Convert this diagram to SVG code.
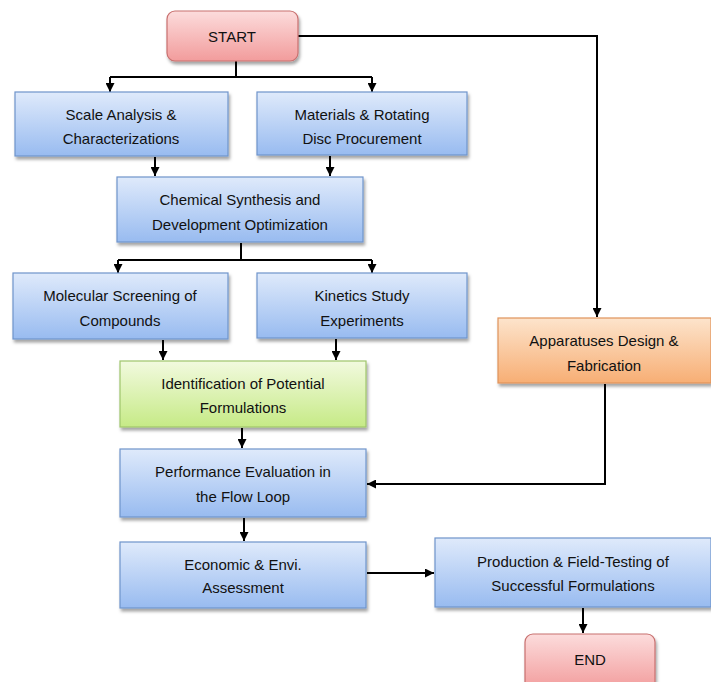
<svg xmlns="http://www.w3.org/2000/svg" width="711" height="682" viewBox="0 0 711 682">
<defs>
<linearGradient id="gBlue" x1="0" y1="0" x2="0" y2="1"><stop offset="0" stop-color="#dfeafb"/><stop offset="1" stop-color="#98bbf0"/></linearGradient>
<linearGradient id="gPink" x1="0" y1="0" x2="0" y2="1"><stop offset="0" stop-color="#fcdcdc"/><stop offset="1" stop-color="#f29c9c"/></linearGradient>
<linearGradient id="gGreen" x1="0" y1="0" x2="0" y2="1"><stop offset="0" stop-color="#f2fadf"/><stop offset="1" stop-color="#c6ea86"/></linearGradient>
<linearGradient id="gOrange" x1="0" y1="0" x2="0" y2="1"><stop offset="0" stop-color="#fde4cc"/><stop offset="1" stop-color="#f7ae74"/></linearGradient>
<filter id="sh" x="-10%" y="-10%" width="125%" height="140%"><feDropShadow dx="1.5" dy="3" stdDeviation="1.8" flood-color="#000" flood-opacity="0.35"/></filter>
<marker id="ah" viewBox="0 0 10 10" refX="10" refY="5" markerWidth="9" markerHeight="9" markerUnits="userSpaceOnUse" orient="auto"><path d="M0,0 L10,5 L0,10 z" fill="#000"/></marker>
</defs>
<style>
.blue{fill:url(#gBlue);stroke:#6f94cb;stroke-width:1.2}
.pink{fill:url(#gPink);stroke:#c8706f;stroke-width:1.2}
.green{fill:url(#gGreen);stroke:#9fc56c;stroke-width:1.2}
.orange{fill:url(#gOrange);stroke:#e0935a;stroke-width:1.2}
text{font-family:"Liberation Sans","Open Sans",sans-serif;font-size:15px;fill:#111;text-anchor:middle}
.c{fill:none;stroke:#000;stroke-width:2}
</style>
<rect width="711" height="682" fill="#fff"/>
<g id="connectors">
<path class="c" d="M236,61 V77"/>
<path class="c" d="M110,77 H372"/>
<path class="c" d="M110,77 V92" marker-end="url(#ah)"/>
<path class="c" d="M372,77 V92" marker-end="url(#ah)"/>
<path class="c" d="M298,36 H597 V317" marker-end="url(#ah)"/>
<path class="c" d="M155,157 V176" marker-end="url(#ah)"/>
<path class="c" d="M330,156 V176" marker-end="url(#ah)" stroke-width="3"/>
<path class="c" d="M241,243 V260"/>
<path class="c" d="M118,260 H372"/>
<path class="c" d="M118,260 V273" marker-end="url(#ah)"/>
<path class="c" d="M372,260 V273" marker-end="url(#ah)"/>
<path class="c" d="M163,340 V360" marker-end="url(#ah)"/>
<path class="c" d="M336,339 V360" marker-end="url(#ah)"/>
<path class="c" d="M242,428 V448" marker-end="url(#ah)"/>
<path class="c" d="M605,384 V484 H367" marker-end="url(#ah)"/>
<path class="c" d="M244,518 V541" marker-end="url(#ah)"/>
<path class="c" d="M367,573 H434" marker-end="url(#ah)"/>
<path class="c" d="M583,608 V633" marker-end="url(#ah)"/>
</g>
<g id="start"><rect class="pink" x="167" y="11" width="131" height="50" rx="8" filter="url(#sh)"/><text x="232" y="42">START</text></g>
<g id="scale"><rect class="blue" x="15" y="92" width="213" height="64" filter="url(#sh)"/><text x="121" y="120">Scale Analysis &amp;</text><text x="121" y="144">Characterizations</text></g>
<g id="materials"><rect class="blue" x="257" y="92" width="210" height="63" filter="url(#sh)"/><text x="362" y="120">Materials &amp; Rotating</text><text x="362" y="144">Disc Procurement</text></g>
<g id="chemical"><rect class="blue" x="117" y="177" width="246" height="65" filter="url(#sh)"/><text x="240" y="205">Chemical Synthesis and</text><text x="240" y="230">Development Optimization</text></g>
<g id="molecular"><rect class="blue" x="13" y="273" width="215" height="66" filter="url(#sh)"/><text x="120" y="301">Molecular Screening of</text><text x="120" y="326">Compounds</text></g>
<g id="kinetics"><rect class="blue" x="257" y="273" width="210" height="65" filter="url(#sh)"/><text x="362" y="301">Kinetics Study</text><text x="362" y="326">Experiments</text></g>
<g id="apparatus"><rect class="orange" x="498" y="318" width="213" height="65" filter="url(#sh)"/><text x="604" y="346">Apparatuses Design &amp;</text><text x="604" y="371">Fabrication</text></g>
<g id="identification"><rect class="green" x="120" y="361" width="246" height="66" filter="url(#sh)"/><text x="243" y="389">Identification of Potential</text><text x="243" y="413">Formulations</text></g>
<g id="performance"><rect class="blue" x="120" y="449" width="246" height="68" filter="url(#sh)"/><text x="243" y="477">Performance Evaluation in</text><text x="243" y="502">the Flow Loop</text></g>
<g id="economic"><rect class="blue" x="120" y="542" width="246" height="66" filter="url(#sh)"/><text x="243" y="570">Economic &amp; Envi.</text><text x="243" y="593">Assessment</text></g>
<g id="production"><rect class="blue" x="435" y="538" width="276" height="69" filter="url(#sh)"/><text x="573" y="567">Production &amp; Field-Testing of</text><text x="573" y="591">Successful Formulations</text></g>
<g id="end"><rect class="pink" x="525" y="634" width="130" height="56" rx="8" filter="url(#sh)"/><text x="590" y="665">END</text></g>
</svg>
